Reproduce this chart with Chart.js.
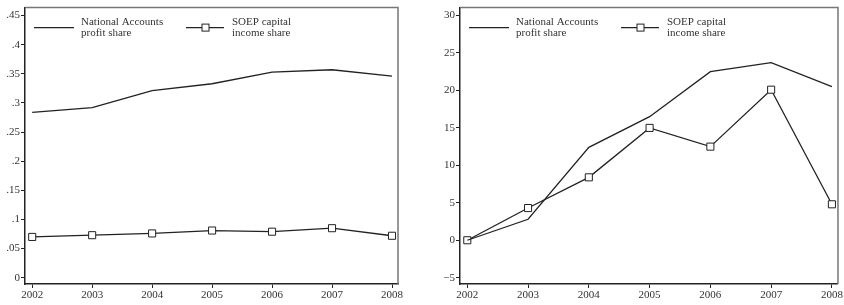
<!DOCTYPE html>
<html>
<head>
<meta charset="utf-8">
<script src="https://cdn.jsdelivr.net/npm/chart.js@4.4.1/dist/chart.umd.min.js"></script>
<style>
  body { margin: 0; background: #fff; }
  .wrap { display: flex; width: 844px; height: 305px; }
  canvas { display: block; }
</style>
</head>
<body>
<div class="wrap">
  <canvas id="levels" width="422" height="305"></canvas>
  <canvas id="growth" width="422" height="305"></canvas>
</div>
<script>
// === Data ===
const years = [2002, 2003, 2004, 2005, 2006, 2007, 2008];
const naShare = [0.284, 0.292, 0.321, 0.333, 0.353, 0.357, 0.346];
const soepShare = [0.070, 0.073, 0.076, 0.081, 0.079, 0.085, 0.072];
const naGrowth = [0, 2.8, 12.4, 16.5, 22.5, 23.7, 20.5];
const soepGrowth = [0, 4.3, 8.4, 15.0, 12.5, 20.1, 4.8];
const leftTicks = [0, 0.05, 0.1, 0.15, 0.2, 0.25, 0.3, 0.35, 0.4, 0.45];
const rightTicks = [-5, 0, 5, 10, 15, 20, 25, 30];
const legendNames = [['National Accounts', 'profit share'], ['SOEP capital', 'income share']];

const FONT = { family: '"Liberation Serif", "DejaVu Serif", serif', size: 11 };
const INK = '#222';

const points = (vals) => years.map((y, i) => ({ x: y, y: vals[i] }));

// frame (top/right) + in-plot legend
const framePlugin = {
  id: 'frame',
  afterDraw(chart) {
    const { ctx, chartArea: a } = chart;
    ctx.save();
    ctx.strokeStyle = '#777';
    ctx.lineWidth = 1.5;
    ctx.beginPath();
    ctx.moveTo(a.left, a.top);
    ctx.lineTo(a.right, a.top);
    ctx.lineTo(a.right, a.bottom);
    ctx.stroke();

    // legend
    const y0 = a.top + 20;
    ctx.strokeStyle = INK;
    ctx.lineWidth = 1.3;
    ctx.beginPath();
    ctx.moveTo(a.left + 9, y0); ctx.lineTo(a.left + 49, y0);
    ctx.moveTo(a.left + 161, y0); ctx.lineTo(a.left + 199, y0);
    ctx.stroke();
    ctx.fillStyle = '#fff';
    ctx.lineWidth = 1;
    ctx.fillRect(a.left + 177, y0 - 3.5, 7, 7);
    ctx.strokeRect(a.left + 177, y0 - 3.5, 7, 7);

    ctx.fillStyle = '#333';
    ctx.font = `${FONT.size}px ${FONT.family}`;
    ctx.textBaseline = 'middle';
    ctx.textAlign = 'left';
    legendNames.forEach((lines, k) => {
      const tx = a.left + (k === 0 ? 56 : 207);
      lines.forEach((t, j) => ctx.fillText(t, tx, y0 - 5 + j * 10.5));
    });
    ctx.restore();
  }
};

function makeChart(id, na, soep, yTicks, yMin, yMax, yWidth, fmt) {
  return new Chart(document.getElementById(id), {
    type: 'line',
    data: {
      datasets: [{
        label: legendNames[0].join(' '),
        data: points(na),
        borderColor: INK,
        borderWidth: 1.3,
        pointRadius: 0,
        tension: 0
      }, {
        label: legendNames[1].join(' '),
        data: points(soep),
        borderColor: INK,
        borderWidth: 1.3,
        pointStyle: 'rect',
        pointRadius: 5,
        pointBorderWidth: 1,
        pointBorderColor: INK,
        pointBackgroundColor: '#fff',
        tension: 0
      }]
    },
    options: {
      responsive: false,
      animation: false,
      devicePixelRatio: 1,
      layout: { padding: { top: 7, right: id === 'levels' ? 24 : 6, left: 0, bottom: 0 } },
      plugins: { legend: { display: false }, tooltip: { enabled: false } },
      scales: {
        x: {
          type: 'linear',
          min: 2001.88,
          max: 2008.1,
          afterBuildTicks: (s) => { s.ticks = years.map(v => ({ value: v })); },
          afterFit: (s) => { s.height = 21; },
          border: { display: true, color: INK, width: 1.5 },
          grid: { display: true, drawOnChartArea: false, tickLength: 4, color: INK },
          ticks: { font: FONT, color: '#333', padding: 1, maxRotation: 0, callback: (v) => String(v) }
        },
        y: {
          min: yMin,
          max: yMax,
          afterBuildTicks: (s) => { s.ticks = yTicks.map(v => ({ value: v })); },
          afterFit: (s) => { s.width = yWidth; },
          border: { display: true, color: INK, width: 1.5 },
          grid: { display: true, drawOnChartArea: false, tickLength: 4, color: INK },
          ticks: { font: FONT, color: '#333', padding: 1, callback: fmt }
        }
      }
    },
    plugins: [framePlugin]
  });
}

makeChart('levels', naShare, soepShare, leftTicks, -0.0108, 0.4637, 25,
  (v) => v === 0 ? '0' : String(+v.toFixed(2)).replace(/^0\./, '.'));
makeChart('growth', naGrowth, soepGrowth, rightTicks, -5.84, 31.06, 38,
  (v) => v < 0 ? '\u2212' + Math.abs(v) : String(v));
</script>
</body>
</html>
